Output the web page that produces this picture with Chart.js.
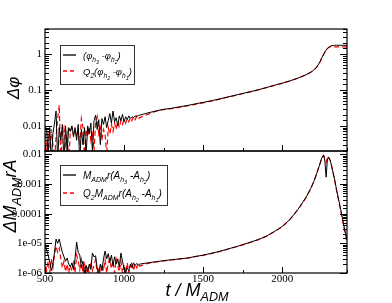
<!DOCTYPE html>
<html>
<head>
<meta charset="utf-8">
<script src="https://cdn.jsdelivr.net/npm/chart.js"></script>
<style>
  body { margin: 0; background: #fff; }
  #wrap { position: relative; width: 392px; height: 303px; }
  canvas { position: absolute; left: 0; top: 0; }
</style>
</head>
<body>
<div id="wrap">
  <canvas id="topChart" width="392" height="303"></canvas>
  <canvas id="bottomChart" width="392" height="303"></canvas>
</div>
<script>
// time samples (t / M_ADM)
const tNoise = [500, 510, 520, 530, 540, 550, 560, 570, 580, 590, 600, 610, 620, 630, 640, 650, 660, 670, 680, 690,
  700, 710, 720, 730, 740, 750, 760, 770, 780, 790, 800, 810, 820, 830, 840, 850, 860, 870, 880, 890,
  900, 910, 920, 930, 940, 950, 960, 970, 980, 990, 1000, 1010, 1020, 1030, 1040, 1050, 1060, 1070, 1080, 1090, 1100];
const tSmooth = [1150, 1200, 1250, 1300, 1350, 1400, 1450, 1500, 1550, 1600, 1650, 1700, 1750, 1800, 1850, 1900, 1950, 2000,
  2050, 2100, 2150, 2180, 2200, 2220, 2240, 2250, 2262, 2270, 2278, 2285, 2292, 2305, 2315, 2323, 2330, 2345, 2367, 2390, 2410];

// top panel: phase difference
const phiBlackNoise = [0.010, 0.008, 0.0015, 0.009, 0.001, 0.006, 0.012, 0.026, 0.001, 0.009, 0.004, 0.011, 0.001, 0.010, 0.002, 0.009, 0.007, 0.010, 0.005, 0.009,
  0.004, 0.011, 0.001, 0.008, 0.003, 0.009, 0.0015, 0.010, 0.006, 0.012, 0.002, 0.014, 0.020, 0.008, 0.015, 0.003, 0.016, 0.011, 0.018, 0.009,
  0.014, 0.022, 0.012, 0.026, 0.013, 0.017, 0.010, 0.019, 0.014, 0.021, 0.013, 0.018, 0.015, 0.019, 0.016, 0.018, 0.017, 0.019, 0.018, 0.0195, 0.020];
const phiBlackSmooth = [0.023, 0.026, 0.029, 0.031, 0.034, 0.037, 0.041, 0.045, 0.050, 0.056, 0.063, 0.071, 0.080, 0.090, 0.102, 0.117, 0.135, 0.155,
  0.18, 0.215, 0.265, 0.31, 0.36, 0.44, 0.62, 0.78, 0.98, 1.15, 1.3, 1.42, 1.52, 1.66, 1.72, 1.74, 1.75, 1.76, 1.76, 1.76, 1.76];
const phiRedNoise = [0.006, 0.002, 0.007, 0.001, 0.008, 0.003, 0.001, 0.005, 0.015, 0.038, 0.001, 0.006, 0.009, 0.003, 0.006, 0.001, 0.007, 0.009, 0.006, 0.008,
  0.005, 0.007, 0.003, 0.016, 0.009, 0.001, 0.008, 0.005, 0.009, 0.004, 0.007, 0.002, 0.012, 0.018, 0.006, 0.009, 0.004, 0.008, 0.006, 0.0015,
  0.009, 0.006, 0.011, 0.007, 0.012, 0.008, 0.013, 0.009, 0.014, 0.011, 0.015, 0.012, 0.016, 0.013, 0.017, 0.014, 0.018, 0.015, 0.019, 0.016, 0.017];
const phiRedSmooth = [0.021, 0.0255, 0.0285, 0.030, 0.033, 0.036, 0.040, 0.044, 0.049, 0.055, 0.062, 0.070, 0.079, 0.089, 0.101, 0.116, 0.134, 0.153,
  0.178, 0.213, 0.262, 0.31, 0.36, 0.44, 0.61, 0.77, 0.97, 1.13, 1.28, 1.40, 1.50, 1.62, 1.60, 1.58, 1.58, 1.58, 1.58, 1.58, 1.58];

// bottom panel: amplitude difference
const ampBlackNoise = [1.0e-5, 6e-6, 4e-6, 2.3e-6, 1.2e-6, 2e-6, 5e-6, 1.4e-5, 1.0e-5, 1.4e-5, 8e-6, 5e-6, 3.5e-6, 2.5e-6, 3.2e-6, 2e-6, 1.6e-6, 2.2e-6, 1.3e-6, 3e-6,
  1.1e-5, 5e-6, 4e-6, 1.5e-6, 2.5e-6, 1.0e-6, 1.8e-6, 1.1e-6, 2e-6, 1.3e-6, 4.7e-6, 3.5e-6, 3.8e-6, 1.5e-6, 1.0e-6, 2e-6, 1.2e-6, 3e-6, 5.5e-6, 3e-6,
  4.5e-6, 2.2e-6, 4e-6, 1.8e-6, 3.5e-6, 2e-6, 3e-6, 1.6e-6, 4.7e-6, 2.5e-6, 1.4e-6, 1.0e-6, 1.5e-6, 1.2e-6, 2e-6, 1.5e-6, 2.2e-6, 1.8e-6, 2.1e-6, 1.9e-6, 2.0e-6];
const ampBlackSmooth = [2.2e-6, 2.4e-6, 2.6e-6, 2.8e-6, 3.0e-6, 3.2e-6, 3.6e-6, 4.0e-6, 4.6e-6, 5.3e-6, 6.3e-6, 7.5e-6, 9e-6, 1.1e-5, 1.35e-5, 1.75e-5, 2.5e-5, 3.7e-5,
  6.5e-5, 1.4e-4, 3.5e-4, 7e-4, 1.2e-3, 2.4e-3, 5e-3, 7.5e-3, 9.5e-3, 6e-3, 1.7e-3, 6e-3, 8.2e-3, 6e-3, 3.6e-3, 2.3e-3, 1.6e-3, 6e-4, 1.7e-4, 4e-5, 1.3e-5];
const ampRedNoise = [3e-6, 1.2e-6, 2.5e-6, 1.0e-6, 3e-6, 1.5e-6, 4e-6, 8e-6, 5e-6, 7e-6, 3e-6, 1.5e-6, 2.5e-6, 1.1e-6, 2e-6, 1.0e-6, 1.8e-6, 1.2e-6, 2.2e-6, 1.0e-6,
  4e-6, 2.5e-6, 1.3e-6, 2.8e-6, 1.0e-6, 2e-6, 1.1e-6, 1.6e-6, 1.0e-6, 2.4e-6, 1.2e-6, 1.8e-6, 2.8e-6, 1.0e-6, 1.6e-6, 1.0e-6, 2e-6, 1.2e-6, 2.8e-6, 1.0e-6,
  2.2e-6, 3e-6, 1.4e-6, 2.6e-6, 1.0e-6, 3e-6, 1.8e-6, 1.1e-6, 2.5e-6, 1.0e-6, 1.9e-6, 1.0e-6, 2.2e-6, 1.0e-6, 1.6e-6, 2.4e-6, 1.2e-6, 2e-6, 1.5e-6, 2.1e-6, 1.7e-6];
const ampRedSmooth = [2.1e-6, 2.35e-6, 2.55e-6, 2.75e-6, 2.95e-6, 3.15e-6, 3.55e-6, 3.95e-6, 4.5e-6, 5.2e-6, 6.2e-6, 7.4e-6, 8.9e-6, 1.08e-5, 1.33e-5, 1.72e-5, 2.45e-5, 3.6e-5,
  6.4e-5, 1.38e-4, 3.4e-4, 6.9e-4, 1.2e-3, 2.4e-3, 5e-3, 7.4e-3, 9.2e-3, 7.5e-3, 5.5e-3, 7.5e-3, 8.5e-3, 6e-3, 3.5e-3, 2.2e-3, 1.5e-3, 5.6e-4, 1.5e-4, 3.5e-5, 1.1e-5];

// tick labels (powers of ten only)
const topTickLabels = { '-2': '0.01', '-1': '0.1', '0': '1' };
const bottomTickLabels = { '-6': '1e-06', '-5': '1e-05', '-4': '0.0001', '-3': '0.001', '-2': '0.01' };

// legend / axis title text, as [text, level] pieces (1 = subscript, 2 = sub-subscript)
const topLegend = [
  [['(φ', 0], ['h', 1], ['3', 2], [' -φ', 0], ['h', 1], ['2', 2], [')', 0]],
  [['Q', 0], ['2', 1], ['(φ', 0], ['h', 1], ['2', 2], [' -φ', 0], ['h', 1], ['1', 2], [')', 0]]
];
const bottomLegend = [
  [['M', 0], ['ADM', 1], ['r(A', 0], ['h', 1], ['3', 2], [' -A', 0], ['h', 1], ['2', 2], [')', 0]],
  [['Q', 0], ['2', 1], ['M', 0], ['ADM', 1], ['r(A', 0], ['h', 1], ['2', 2], [' -A', 0], ['h', 1], ['1', 2], [')', 0]]
];
const topYTitle = [['Δφ', 0]];
const bottomYTitle = [['ΔM', 0], ['ADM', 1], ['rA', 0]];
const xTitle = [['t / M', 0], ['ADM', 1]];

const SANS = '"Liberation Sans", Arial, sans-serif';

function pts(ts, vs) { return ts.map((t, i) => ({ x: t, y: vs[i] })); }

function richWidth(ctx, parts, size) {
  let w = 0;
  parts.forEach(([txt, lvl]) => {
    ctx.font = 'italic ' + [size, size * 0.7, size * 0.55][lvl] + 'px ' + SANS;
    w += ctx.measureText(txt).width;
  });
  return w;
}

function richText(ctx, parts, x, y, size) {
  let cx = x;
  parts.forEach(([txt, lvl]) => {
    ctx.font = 'italic ' + [size, size * 0.7, size * 0.55][lvl] + 'px ' + SANS;
    ctx.fillText(txt, cx, y + [0, size * 0.3, size * 0.5][lvl]);
    cx += ctx.measureText(txt).width;
  });
}

function isDecade(v) {
  const l = Math.log10(v);
  return Math.abs(l - Math.round(l)) < 1e-6;
}

// frame, inward ticks, legend and titles
function makeFrame(cfg) {
  return {
    id: 'frame',
    afterDraw(chart) {
      const { ctx, chartArea: a, scales: { x, y } } = chart;
      ctx.save();
      ctx.strokeStyle = '#000';
      ctx.lineWidth = 1;
      ctx.beginPath();
      x.ticks.forEach(t => {
        const px = Math.round(x.getPixelForValue(t.value)) + 0.5;
        const len = t.value % 500 === 0 ? 6 : 3;
        ctx.moveTo(px, a.bottom); ctx.lineTo(px, a.bottom - len);
      });
      y.ticks.forEach(t => {
        const py = Math.round(y.getPixelForValue(t.value)) + 0.5;
        const len = isDecade(t.value) ? 7 : 4;
        ctx.moveTo(a.left, py); ctx.lineTo(a.left + len, py);
        ctx.moveTo(a.right, py); ctx.lineTo(a.right - len, py);
      });
      ctx.stroke();
      ctx.lineWidth = 1.2;
      ctx.strokeRect(a.left, a.top, a.right - a.left, a.bottom - a.top);

      // legend
      const L = cfg.legend;
      ctx.lineWidth = 1;
      ctx.strokeStyle = '#333';
      ctx.strokeRect(L.x + 0.5, L.y + 0.5, L.w, L.h);
      ctx.fillStyle = '#000';
      ctx.textBaseline = 'alphabetic';
      L.rows.forEach((row, i) => {
        const ly = L.y + L.first + i * L.gap;
        ctx.beginPath();
        ctx.strokeStyle = i === 0 ? '#000' : '#ff0000';
        ctx.lineWidth = 1.3;
        ctx.setLineDash(i === 0 ? [] : [4, 3]);
        ctx.moveTo(L.x + 3, ly); ctx.lineTo(L.x + 16, ly);
        ctx.stroke();
        ctx.setLineDash([]);
        richText(ctx, row, L.x + 23, ly + 4, L.size);
      });

      // y title (rotated)
      const T = cfg.yTitle;
      const w = richWidth(ctx, T.parts, T.size);
      ctx.translate(T.x, T.y);
      ctx.rotate(-Math.PI / 2);
      richText(ctx, T.parts, -w / 2, 0, T.size);
      ctx.setTransform(1, 0, 0, 1, 0, 0);

      if (cfg.xTitle) {
        const X = cfg.xTitle;
        const xw = richWidth(ctx, X.parts, X.size);
        richText(ctx, X.parts, X.x - xw / 2, X.y, X.size);
      }
      ctx.restore();
    }
  };
}

function makeOptions(yMin, yMax, labels, pad, xHeight, showX) {
  return {
    responsive: false,
    animation: false,
    layout: { padding: pad },
    plugins: { legend: { display: false }, tooltip: { enabled: false } },
    scales: {
      x: {
        type: 'linear', min: 500, max: 2410,
        grid: { display: false, drawTicks: false },
        border: { display: false },
        afterFit: s => { s.height = xHeight; },
        ticks: {
          display: showX, stepSize: 250, autoSkip: false, maxRotation: 0, padding: 0,
          color: '#000', font: { family: '"Liberation Serif", serif', size: 11 },
          callback: v => (v % 500 === 0 ? String(v) : '')
        }
      },
      y: {
        type: 'logarithmic', min: yMin, max: yMax,
        grid: { display: false, drawTicks: false },
        border: { display: false },
        afterFit: s => { s.width = 45; },
        ticks: {
          autoSkip: false, padding: 3,
          color: '#000', font: { family: '"Liberation Serif", serif', size: 11 },
          callback: v => (isDecade(v) ? (labels[String(Math.round(Math.log10(v)))] || '') : '')
        }
      }
    }
  };
}

function series(data, red) {
  return {
    data: data,
    borderColor: red ? '#ff0000' : '#000000',
    borderWidth: red ? 1.2 : 1,
    borderDash: red ? [5, 3] : [],
    pointRadius: 0,
    tension: 0,
    fill: false
  };
}

const tAll = tNoise.concat(tSmooth);

new Chart(document.getElementById('topChart'), {
  type: 'line',
  data: {
    datasets: [
      series(pts(tAll, phiBlackNoise.concat(phiBlackSmooth)), false),
      series(pts(tAll, phiRedNoise.concat(phiRedSmooth)), true)
    ]
  },
  options: makeOptions(0.002, 5, topTickLabels, { top: 29, right: 45, bottom: 152, left: 0 }, 0, false),
  plugins: [makeFrame({
    legend: { x: 60, y: 45, w: 74, h: 39, first: 10, gap: 16, size: 9.5, rows: topLegend },
    yTitle: { parts: topYTitle, size: 17, x: 19, y: 88 }
  })]
});

new Chart(document.getElementById('bottomChart'), {
  type: 'line',
  data: {
    datasets: [
      series(pts(tAll, ampBlackNoise.concat(ampBlackSmooth)), false),
      series(pts(tAll, ampRedNoise.concat(ampRedSmooth)), true)
    ]
  },
  options: makeOptions(1e-6, 0.013, bottomTickLabels, { top: 151, right: 45, bottom: 10, left: 0 }, 20, true),
  plugins: [makeFrame({
    legend: { x: 60, y: 165, w: 107, h: 40, first: 10, gap: 18, size: 10, rows: bottomLegend },
    yTitle: { parts: bottomYTitle, size: 18, x: 16, y: 196 },
    xTitle: { parts: xTitle, size: 18, x: 197, y: 296 }
  })]
});
</script>
</body>
</html>
